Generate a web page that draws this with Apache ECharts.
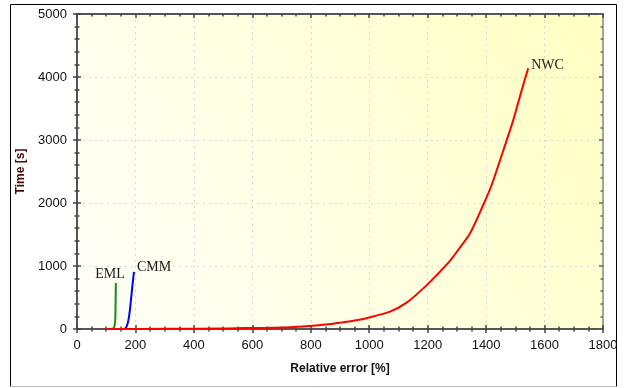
<!DOCTYPE html>
<html>
<head>
<meta charset="utf-8">
<script src="https://cdn.jsdelivr.net/npm/echarts@6/dist/echarts.min.js"></script>
<style>
  html, body { margin: 0; padding: 0; background: #fff; }
  #chart { width: 626px; height: 388px; }
</style>
</head>
<body>
<div id="chart"></div>
<script>
  // [relative error %, time s]
  const emlData = [[118, 0], [124, 10], [128, 40], [131, 150], [132, 400], [133, 730]]
  const cmmData = [[147, 0], [164, 5], [170, 40], [176, 140], [181, 300], [187, 570], [193, 830], [195, 905]]
  const nwcData = [
    [99, 0], [300, 3], [500, 8], [575, 15], [650, 20], [729, 27], [797, 48], [850, 70],
    [900, 100], [950, 135], [997, 180], [1071, 275], [1128, 418], [1185, 645], [1231, 857],
    [1274, 1069], [1310, 1290], [1345, 1519], [1390, 1968], [1419, 2286], [1448, 2683],
    [1470, 2990], [1493, 3317], [1522, 3794], [1544, 4138]
  ]
  const seriesNames = ['EML', 'CMM', 'NWC']
  const xRange = [0, 1800, 200]
  const yRange = [0, 5000, 1000]

  const tickFont = '"Liberation Sans", Arial, sans-serif'
  const grid = { left: 77, right: 23, top: 14, bottom: 59 }

  function endLabel(align, offset) {
    return {
      show: true,
      formatter: '{a}',
      align: align,
      distance: 3,
      offset: offset,
      fontFamily: '"Liberation Serif", "Times New Roman", serif',
      fontSize: 14,
      color: '#1a1a1a'
    }
  }

  function baseAxis(range, extra) {
    return Object.assign({
      type: 'value',
      min: range[0],
      max: range[1],
      interval: range[2],
      axisLine: { show: true, onZero: false, lineStyle: { color: '#555', width: 2 } },
      axisTick: { show: true, length: 4, lineStyle: { color: '#444', width: 1.5 } },
      minorTick: { show: true, length: 2.5, lineStyle: { color: '#444', width: 1.5 } },
      splitLine: { show: false },
      axisLabel: { show: false }
    }, extra)
  }

  const labelStyle = { show: true, margin: 10, fontFamily: tickFont, fontSize: 13, color: '#111', formatter: v => String(v) }
  const nameStyle = { fontFamily: tickFont, fontSize: 12, fontWeight: 'bold', color: '#111' }
  const innerTick = { show: true, inside: true, length: 4, lineStyle: { color: '#444', width: 1.5 } }

  let chart = echarts.init(document.getElementById('chart'))
  chart.setOption({
    animation: false,
    grid: [
      Object.assign({
        show: true,
        borderWidth: 0,
        backgroundColor: new echarts.graphic.LinearGradient(0, 1, 1, 0, [
          { offset: 0, color: '#fffffa' },
          { offset: 0.5, color: '#ffffe0' },
          { offset: 1, color: '#ffffc2' }
        ])
      }, grid),
      Object.assign({ show: false }, grid)
    ],
    xAxis: [
      baseAxis(xRange, {
        gridIndex: 0,
        position: 'bottom',
        minorTick: { show: true, splitNumber: 4, length: 2.5, lineStyle: { color: '#444', width: 1.5 } },
        splitLine: { show: true, lineStyle: { color: '#d8d8d8', type: [2, 4] } },
        axisLabel: labelStyle,
        name: 'Relative error [%]',
        nameLocation: 'middle',
        nameGap: 34,
        nameTextStyle: nameStyle
      }),
      baseAxis(xRange, {
        gridIndex: 1,
        position: 'bottom',
        axisTick: innerTick,
        minorTick: { show: true, splitNumber: 4, length: 2.5, lineStyle: { color: '#444', width: 1.5 } }
      }),
      baseAxis(xRange, {
        gridIndex: 1,
        position: 'top',
        axisTick: innerTick,
        minorTick: { show: true, splitNumber: 4, length: 2.5, lineStyle: { color: '#444', width: 1.5 } }
      })
    ],
    yAxis: [
      baseAxis(yRange, {
        gridIndex: 0,
        position: 'left',
        minorTick: { show: true, splitNumber: 5, length: 2.5, lineStyle: { color: '#444', width: 1.5 } },
        splitLine: { show: true, lineStyle: { color: '#d8d8d8', type: [2, 4] } },
        axisLabel: labelStyle,
        name: 'Time [s]',
        nameLocation: 'middle',
        nameGap: 44,
        nameTextStyle: Object.assign({}, nameStyle, { color: '#4a0808' })
      }),
      baseAxis(yRange, {
        gridIndex: 1,
        position: 'left',
        axisTick: innerTick,
        minorTick: { show: true, splitNumber: 5, length: 2.5, lineStyle: { color: '#444', width: 1.5 } }
      }),
      baseAxis(yRange, {
        gridIndex: 1,
        position: 'right',
        axisLine: { show: true, onZero: false, lineStyle: { color: '#888', width: 1.5 } },
        axisTick: { show: true, inside: true, length: 4, lineStyle: { color: '#666', width: 1.5 } },
        minorTick: { show: true, splitNumber: 5, length: 2.5, lineStyle: { color: '#666', width: 1.5 } }
      })
    ],
    graphic: [
      { type: 'line', shape: { x1: 10.5, y1: 4.5, x2: 616.5, y2: 4.5 }, style: { stroke: '#000', lineWidth: 1 } },
      { type: 'line', shape: { x1: 10.5, y1: 4.5, x2: 10.5, y2: 386.5 }, style: { stroke: '#000', lineWidth: 1 } },
      { type: 'line', shape: { x1: 616.5, y1: 4.5, x2: 616.5, y2: 386.5 }, style: { stroke: '#000', lineWidth: 1 } },
      { type: 'line', shape: { x1: 10.5, y1: 386.5, x2: 616.5, y2: 386.5 }, style: { stroke: '#bbb', lineWidth: 1 } }
    ],
    series: [
      {
        name: seriesNames[0],
        type: 'line',
        showSymbol: false,
        smooth: 0.2,
        lineStyle: { color: '#178c17', width: 2 },
        endLabel: endLabel('right', [6, -9]),
        data: emlData
      },
      {
        name: seriesNames[1],
        type: 'line',
        showSymbol: false,
        smooth: 0.2,
        lineStyle: { color: '#0000ff', width: 2 },
        endLabel: endLabel('left', [0, -5]),
        data: cmmData
      },
      {
        name: seriesNames[2],
        type: 'line',
        showSymbol: false,
        smooth: 0.3,
        lineStyle: { color: '#ff0000', width: 2 },
        endLabel: endLabel('left', [0, -3]),
        data: nwcData
      }
    ]
  })
  window.addEventListener('resize', () => chart.resize())
</script>
</body>
</html>
